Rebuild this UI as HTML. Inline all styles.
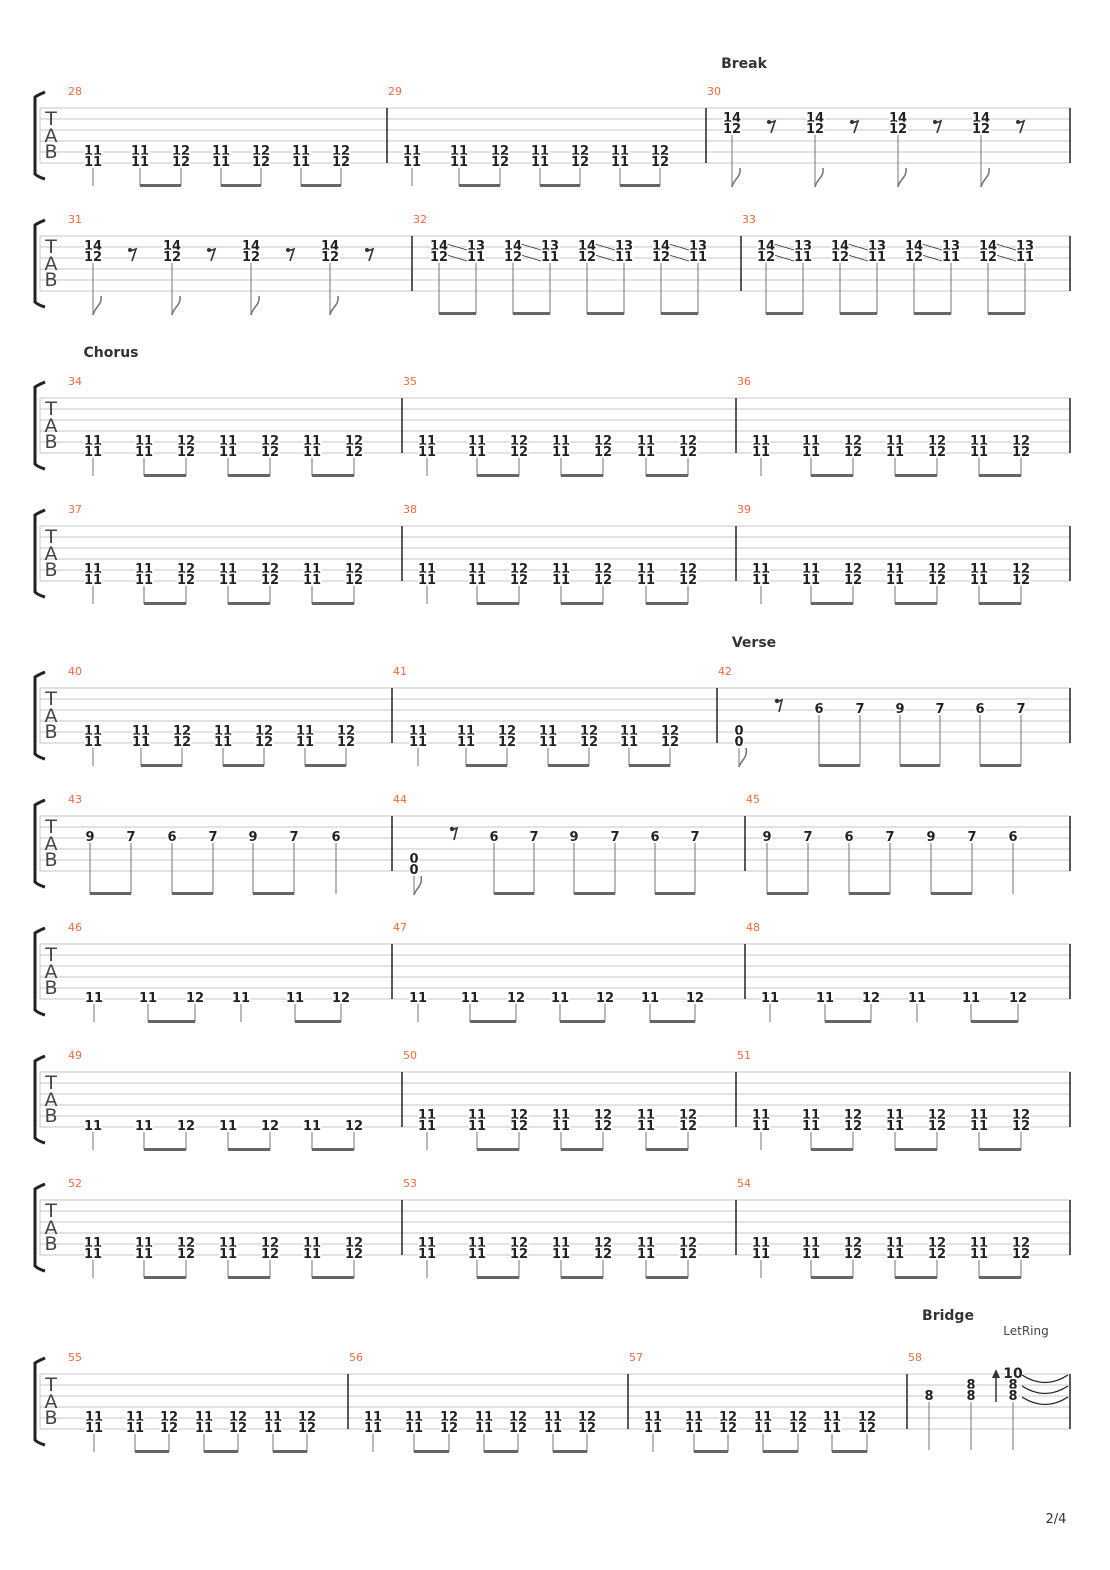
<!DOCTYPE html>
<html><head><meta charset="utf-8">
<style>
html,body{margin:0;padding:0;background:#fff}
svg{display:block}
.n{font:bold 13px "DejaVu Sans","Liberation Sans",sans-serif;text-anchor:middle;fill:#222;stroke:#fff;stroke-width:3px;paint-order:stroke}
.st{stroke:#8a8a8a;stroke-width:1.2}
.bm{fill:#666}
.bn{font:11px "DejaVu Sans","Liberation Sans",sans-serif;fill:#f26a3e}
.sl{stroke:#c4c4c4;stroke-width:1}
.bl{stroke:#222;stroke-width:1.5}
.tab{font:19px "DejaVu Sans","Liberation Sans",sans-serif;fill:#444;text-anchor:middle}
.sec{font:bold 14px "DejaVu Sans","Liberation Sans",sans-serif;fill:#333;text-anchor:middle}
.fl{stroke:#777;stroke-width:1.6;fill:none}
.rs{stroke:#333;stroke-width:1.6;fill:none}
</style></head>
<body>
<svg width="1110" height="1570" viewBox="0 0 1110 1570" xmlns="http://www.w3.org/2000/svg">
<defs>
<g id="staff">
<line class="sl" x1="40" y1="0" x2="1070" y2="0"/>
<line class="sl" x1="40" y1="11" x2="1070" y2="11"/>
<line class="sl" x1="40" y1="22" x2="1070" y2="22"/>
<line class="sl" x1="40" y1="33" x2="1070" y2="33"/>
<line class="sl" x1="40" y1="44" x2="1070" y2="44"/>
<line class="sl" x1="40" y1="55" x2="1070" y2="55"/>
<line class="sl" x1="40" y1="0" x2="40" y2="55"/>
<line class="bl" x1="1070" y1="0" x2="1070" y2="55"/>
<path d="M45,-16 Q38,-13 35,-11 L35,66 Q38,69 45,71" stroke="#222" stroke-width="3" fill="none"/>
</g>
</defs>

<text class="sec" x="744" y="68">Break</text>
<text class="sec" x="111" y="357">Chorus</text>
<text class="sec" x="754" y="647">Verse</text>
<text class="sec" x="948" y="1320">Bridge</text>
<text x="1026" y="1335" style="font:12px 'DejaVu Sans',sans-serif;fill:#444;text-anchor:middle">LetRing</text>
<text x="1056" y="1523" style="font:13px 'DejaVu Sans',sans-serif;fill:#333;text-anchor:middle">2/4</text>

<!-- ROW 1 -->
<g transform="translate(0,108)">
<use href="#staff"/>
<text class="tab" x="51" y="17">T</text><text class="tab" x="51" y="34">A</text><text class="tab" x="51" y="50">B</text>
<text class="bn" x="68" y="-13">28</text><text class="bn" x="388" y="-13">29</text><text class="bn" x="707" y="-13">30</text>
<line class="bl" x1="387" y1="0" x2="387" y2="55"/><line class="bl" x1="706" y1="0" x2="706" y2="55"/>
<g>
<line class="st" x1="93" y1="60" x2="93" y2="78"/><text class="n" x="93" y="47">11</text><text class="n" x="93" y="58">11</text>
<line class="st" x1="140" y1="60" x2="140" y2="78"/><text class="n" x="140" y="47">11</text><text class="n" x="140" y="58">11</text>
<line class="st" x1="181" y1="60" x2="181" y2="78"/><text class="n" x="181" y="47">12</text><text class="n" x="181" y="58">12</text>
<rect class="bm" x="140" y="76" width="41" height="3"/>
<line class="st" x1="221" y1="60" x2="221" y2="78"/><text class="n" x="221" y="47">11</text><text class="n" x="221" y="58">11</text>
<line class="st" x1="261" y1="60" x2="261" y2="78"/><text class="n" x="261" y="47">12</text><text class="n" x="261" y="58">12</text>
<rect class="bm" x="221" y="76" width="40" height="3"/>
<line class="st" x1="301" y1="60" x2="301" y2="78"/><text class="n" x="301" y="47">11</text><text class="n" x="301" y="58">11</text>
<line class="st" x1="341" y1="60" x2="341" y2="78"/><text class="n" x="341" y="47">12</text><text class="n" x="341" y="58">12</text>
<rect class="bm" x="301" y="76" width="40" height="3"/>
</g>
<g>
<line class="st" x1="412" y1="60" x2="412" y2="78"/><text class="n" x="412" y="47">11</text><text class="n" x="412" y="58">11</text>
<line class="st" x1="459" y1="60" x2="459" y2="78"/><text class="n" x="459" y="47">11</text><text class="n" x="459" y="58">11</text>
<line class="st" x1="500" y1="60" x2="500" y2="78"/><text class="n" x="500" y="47">12</text><text class="n" x="500" y="58">12</text>
<rect class="bm" x="459" y="76" width="41" height="3"/>
<line class="st" x1="540" y1="60" x2="540" y2="78"/><text class="n" x="540" y="47">11</text><text class="n" x="540" y="58">11</text>
<line class="st" x1="580" y1="60" x2="580" y2="78"/><text class="n" x="580" y="47">12</text><text class="n" x="580" y="58">12</text>
<rect class="bm" x="540" y="76" width="40" height="3"/>
<line class="st" x1="620" y1="60" x2="620" y2="78"/><text class="n" x="620" y="47">11</text><text class="n" x="620" y="58">11</text>
<line class="st" x1="660" y1="60" x2="660" y2="78"/><text class="n" x="660" y="47">12</text><text class="n" x="660" y="58">12</text>
<rect class="bm" x="620" y="76" width="40" height="3"/>
</g>
<g>
<line class="st" x1="732" y1="27" x2="732" y2="79"/><path class="fl" d="M732,79 C734,70 741,70 740,60"/><text class="n" x="732" y="14">14</text><text class="n" x="732" y="25">12</text>
<circle cx="769" cy="14" r="2" fill="#333"/><path class="rs" d="M769,15 L775,13 L771,25"/>
<line class="st" x1="815" y1="27" x2="815" y2="79"/><path class="fl" d="M815,79 C817,70 824,70 823,60"/><text class="n" x="815" y="14">14</text><text class="n" x="815" y="25">12</text>
<circle cx="852" cy="14" r="2" fill="#333"/><path class="rs" d="M852,15 L858,13 L854,25"/>
<line class="st" x1="898" y1="27" x2="898" y2="79"/><path class="fl" d="M898,79 C900,70 907,70 906,60"/><text class="n" x="898" y="14">14</text><text class="n" x="898" y="25">12</text>
<circle cx="935" cy="14" r="2" fill="#333"/><path class="rs" d="M935,15 L941,13 L937,25"/>
<line class="st" x1="981" y1="27" x2="981" y2="79"/><path class="fl" d="M981,79 C983,70 990,70 989,60"/><text class="n" x="981" y="14">14</text><text class="n" x="981" y="25">12</text>
<circle cx="1018" cy="14" r="2" fill="#333"/><path class="rs" d="M1018,15 L1024,13 L1020,25"/>
</g>
</g>

<!-- ROW 2 -->
<g transform="translate(0,236)">
<use href="#staff"/>
<text class="tab" x="51" y="17">T</text><text class="tab" x="51" y="34">A</text><text class="tab" x="51" y="50">B</text>
<text class="bn" x="68" y="-13">31</text><text class="bn" x="413" y="-13">32</text><text class="bn" x="742" y="-13">33</text>
<line class="bl" x1="412" y1="0" x2="412" y2="55"/><line class="bl" x1="741" y1="0" x2="741" y2="55"/>
<g>
<line class="st" x1="93" y1="27" x2="93" y2="79"/><path class="fl" d="M93,79 C95,70 102,70 101,60"/><text class="n" x="93" y="14">14</text><text class="n" x="93" y="25">12</text>
<circle cx="130" cy="14" r="2" fill="#333"/><path class="rs" d="M130,15 L136,13 L132,25"/>
<line class="st" x1="172" y1="27" x2="172" y2="79"/><path class="fl" d="M172,79 C174,70 181,70 180,60"/><text class="n" x="172" y="14">14</text><text class="n" x="172" y="25">12</text>
<circle cx="209" cy="14" r="2" fill="#333"/><path class="rs" d="M209,15 L215,13 L211,25"/>
<line class="st" x1="251" y1="27" x2="251" y2="79"/><path class="fl" d="M251,79 C253,70 260,70 259,60"/><text class="n" x="251" y="14">14</text><text class="n" x="251" y="25">12</text>
<circle cx="288" cy="14" r="2" fill="#333"/><path class="rs" d="M288,15 L294,13 L290,25"/>
<line class="st" x1="330" y1="27" x2="330" y2="79"/><path class="fl" d="M330,79 C332,70 339,70 338,60"/><text class="n" x="330" y="14">14</text><text class="n" x="330" y="25">12</text>
<circle cx="367" cy="14" r="2" fill="#333"/><path class="rs" d="M367,15 L373,13 L369,25"/>
</g>
<g stroke="#333" stroke-width="0.9">
<line x1="447" y1="8" x2="467" y2="14"/><line x1="447" y1="19" x2="467" y2="25"/>
<line x1="521" y1="8" x2="541" y2="14"/><line x1="521" y1="19" x2="541" y2="25"/>
<line x1="595" y1="8" x2="615" y2="14"/><line x1="595" y1="19" x2="615" y2="25"/>
<line x1="669" y1="8" x2="689" y2="14"/><line x1="669" y1="19" x2="689" y2="25"/>
<line x1="774" y1="8" x2="794" y2="14"/><line x1="774" y1="19" x2="794" y2="25"/>
<line x1="848" y1="8" x2="868" y2="14"/><line x1="848" y1="19" x2="868" y2="25"/>
<line x1="922" y1="8" x2="942" y2="14"/><line x1="922" y1="19" x2="942" y2="25"/>
<line x1="996" y1="8" x2="1016" y2="14"/><line x1="996" y1="19" x2="1016" y2="25"/>
</g>
<g>
<line class="st" x1="439" y1="27" x2="439" y2="78"/><line class="st" x1="476" y1="27" x2="476" y2="78"/><rect class="bm" x="439" y="76" width="37" height="3"/>
<text class="n" x="439" y="14">14</text><text class="n" x="439" y="25">12</text><text class="n" x="476" y="14">13</text><text class="n" x="476" y="25">11</text>
<line class="st" x1="513" y1="27" x2="513" y2="78"/><line class="st" x1="550" y1="27" x2="550" y2="78"/><rect class="bm" x="513" y="76" width="37" height="3"/>
<text class="n" x="513" y="14">14</text><text class="n" x="513" y="25">12</text><text class="n" x="550" y="14">13</text><text class="n" x="550" y="25">11</text>
<line class="st" x1="587" y1="27" x2="587" y2="78"/><line class="st" x1="624" y1="27" x2="624" y2="78"/><rect class="bm" x="587" y="76" width="37" height="3"/>
<text class="n" x="587" y="14">14</text><text class="n" x="587" y="25">12</text><text class="n" x="624" y="14">13</text><text class="n" x="624" y="25">11</text>
<line class="st" x1="661" y1="27" x2="661" y2="78"/><line class="st" x1="698" y1="27" x2="698" y2="78"/><rect class="bm" x="661" y="76" width="37" height="3"/>
<text class="n" x="661" y="14">14</text><text class="n" x="661" y="25">12</text><text class="n" x="698" y="14">13</text><text class="n" x="698" y="25">11</text>
<line class="st" x1="766" y1="27" x2="766" y2="78"/><line class="st" x1="803" y1="27" x2="803" y2="78"/><rect class="bm" x="766" y="76" width="37" height="3"/>
<text class="n" x="766" y="14">14</text><text class="n" x="766" y="25">12</text><text class="n" x="803" y="14">13</text><text class="n" x="803" y="25">11</text>
<line class="st" x1="840" y1="27" x2="840" y2="78"/><line class="st" x1="877" y1="27" x2="877" y2="78"/><rect class="bm" x="840" y="76" width="37" height="3"/>
<text class="n" x="840" y="14">14</text><text class="n" x="840" y="25">12</text><text class="n" x="877" y="14">13</text><text class="n" x="877" y="25">11</text>
<line class="st" x1="914" y1="27" x2="914" y2="78"/><line class="st" x1="951" y1="27" x2="951" y2="78"/><rect class="bm" x="914" y="76" width="37" height="3"/>
<text class="n" x="914" y="14">14</text><text class="n" x="914" y="25">12</text><text class="n" x="951" y="14">13</text><text class="n" x="951" y="25">11</text>
<line class="st" x1="988" y1="27" x2="988" y2="78"/><line class="st" x1="1025" y1="27" x2="1025" y2="78"/><rect class="bm" x="988" y="76" width="37" height="3"/>
<text class="n" x="988" y="14">14</text><text class="n" x="988" y="25">12</text><text class="n" x="1025" y="14">13</text><text class="n" x="1025" y="25">11</text>
</g>
</g>

<!-- ROW 3 -->
<g transform="translate(0,398)">
<use href="#staff"/>
<text class="tab" x="51" y="17">T</text><text class="tab" x="51" y="34">A</text><text class="tab" x="51" y="50">B</text>
<text class="bn" x="68" y="-13">34</text><text class="bn" x="403" y="-13">35</text><text class="bn" x="737" y="-13">36</text>
<line class="bl" x1="402" y1="0" x2="402" y2="55"/><line class="bl" x1="736" y1="0" x2="736" y2="55"/>
<g id="chordrowA">
<line class="st" x1="93" y1="60" x2="93" y2="78"/><text class="n" x="93" y="47">11</text><text class="n" x="93" y="58">11</text>
<line class="st" x1="144" y1="60" x2="144" y2="78"/><text class="n" x="144" y="47">11</text><text class="n" x="144" y="58">11</text>
<line class="st" x1="186" y1="60" x2="186" y2="78"/><text class="n" x="186" y="47">12</text><text class="n" x="186" y="58">12</text>
<rect class="bm" x="144" y="76" width="42" height="3"/>
<line class="st" x1="228" y1="60" x2="228" y2="78"/><text class="n" x="228" y="47">11</text><text class="n" x="228" y="58">11</text>
<line class="st" x1="270" y1="60" x2="270" y2="78"/><text class="n" x="270" y="47">12</text><text class="n" x="270" y="58">12</text>
<rect class="bm" x="228" y="76" width="42" height="3"/>
<line class="st" x1="312" y1="60" x2="312" y2="78"/><text class="n" x="312" y="47">11</text><text class="n" x="312" y="58">11</text>
<line class="st" x1="354" y1="60" x2="354" y2="78"/><text class="n" x="354" y="47">12</text><text class="n" x="354" y="58">12</text>
<rect class="bm" x="312" y="76" width="42" height="3"/>
</g>
<g id="chordrowB">
<line class="st" x1="427" y1="60" x2="427" y2="78"/><text class="n" x="427" y="47">11</text><text class="n" x="427" y="58">11</text>
<line class="st" x1="477" y1="60" x2="477" y2="78"/><text class="n" x="477" y="47">11</text><text class="n" x="477" y="58">11</text>
<line class="st" x1="519" y1="60" x2="519" y2="78"/><text class="n" x="519" y="47">12</text><text class="n" x="519" y="58">12</text>
<rect class="bm" x="477" y="76" width="42" height="3"/>
<line class="st" x1="561" y1="60" x2="561" y2="78"/><text class="n" x="561" y="47">11</text><text class="n" x="561" y="58">11</text>
<line class="st" x1="603" y1="60" x2="603" y2="78"/><text class="n" x="603" y="47">12</text><text class="n" x="603" y="58">12</text>
<rect class="bm" x="561" y="76" width="42" height="3"/>
<line class="st" x1="646" y1="60" x2="646" y2="78"/><text class="n" x="646" y="47">11</text><text class="n" x="646" y="58">11</text>
<line class="st" x1="688" y1="60" x2="688" y2="78"/><text class="n" x="688" y="47">12</text><text class="n" x="688" y="58">12</text>
<rect class="bm" x="646" y="76" width="42" height="3"/>
<line class="st" x1="761" y1="60" x2="761" y2="78"/><text class="n" x="761" y="47">11</text><text class="n" x="761" y="58">11</text>
<line class="st" x1="811" y1="60" x2="811" y2="78"/><text class="n" x="811" y="47">11</text><text class="n" x="811" y="58">11</text>
<line class="st" x1="853" y1="60" x2="853" y2="78"/><text class="n" x="853" y="47">12</text><text class="n" x="853" y="58">12</text>
<rect class="bm" x="811" y="76" width="42" height="3"/>
<line class="st" x1="895" y1="60" x2="895" y2="78"/><text class="n" x="895" y="47">11</text><text class="n" x="895" y="58">11</text>
<line class="st" x1="937" y1="60" x2="937" y2="78"/><text class="n" x="937" y="47">12</text><text class="n" x="937" y="58">12</text>
<rect class="bm" x="895" y="76" width="42" height="3"/>
<line class="st" x1="979" y1="60" x2="979" y2="78"/><text class="n" x="979" y="47">11</text><text class="n" x="979" y="58">11</text>
<line class="st" x1="1021" y1="60" x2="1021" y2="78"/><text class="n" x="1021" y="47">12</text><text class="n" x="1021" y="58">12</text>
<rect class="bm" x="979" y="76" width="42" height="3"/>
</g>
</g>

<!-- ROW 4 -->
<g transform="translate(0,526)">
<use href="#staff"/>
<text class="tab" x="51" y="17">T</text><text class="tab" x="51" y="34">A</text><text class="tab" x="51" y="50">B</text>
<text class="bn" x="68" y="-13">37</text><text class="bn" x="403" y="-13">38</text><text class="bn" x="737" y="-13">39</text>
<line class="bl" x1="402" y1="0" x2="402" y2="55"/><line class="bl" x1="736" y1="0" x2="736" y2="55"/>
<line class="st" x1="93" y1="60" x2="93" y2="78"/><text class="n" x="93" y="47">11</text><text class="n" x="93" y="58">11</text>
<line class="st" x1="144" y1="60" x2="144" y2="78"/><text class="n" x="144" y="47">11</text><text class="n" x="144" y="58">11</text>
<line class="st" x1="186" y1="60" x2="186" y2="78"/><text class="n" x="186" y="47">12</text><text class="n" x="186" y="58">12</text>
<rect class="bm" x="144" y="76" width="42" height="3"/>
<line class="st" x1="228" y1="60" x2="228" y2="78"/><text class="n" x="228" y="47">11</text><text class="n" x="228" y="58">11</text>
<line class="st" x1="270" y1="60" x2="270" y2="78"/><text class="n" x="270" y="47">12</text><text class="n" x="270" y="58">12</text>
<rect class="bm" x="228" y="76" width="42" height="3"/>
<line class="st" x1="312" y1="60" x2="312" y2="78"/><text class="n" x="312" y="47">11</text><text class="n" x="312" y="58">11</text>
<line class="st" x1="354" y1="60" x2="354" y2="78"/><text class="n" x="354" y="47">12</text><text class="n" x="354" y="58">12</text>
<rect class="bm" x="312" y="76" width="42" height="3"/>
<line class="st" x1="427" y1="60" x2="427" y2="78"/><text class="n" x="427" y="47">11</text><text class="n" x="427" y="58">11</text>
<line class="st" x1="477" y1="60" x2="477" y2="78"/><text class="n" x="477" y="47">11</text><text class="n" x="477" y="58">11</text>
<line class="st" x1="519" y1="60" x2="519" y2="78"/><text class="n" x="519" y="47">12</text><text class="n" x="519" y="58">12</text>
<rect class="bm" x="477" y="76" width="42" height="3"/>
<line class="st" x1="561" y1="60" x2="561" y2="78"/><text class="n" x="561" y="47">11</text><text class="n" x="561" y="58">11</text>
<line class="st" x1="603" y1="60" x2="603" y2="78"/><text class="n" x="603" y="47">12</text><text class="n" x="603" y="58">12</text>
<rect class="bm" x="561" y="76" width="42" height="3"/>
<line class="st" x1="646" y1="60" x2="646" y2="78"/><text class="n" x="646" y="47">11</text><text class="n" x="646" y="58">11</text>
<line class="st" x1="688" y1="60" x2="688" y2="78"/><text class="n" x="688" y="47">12</text><text class="n" x="688" y="58">12</text>
<rect class="bm" x="646" y="76" width="42" height="3"/>
<line class="st" x1="761" y1="60" x2="761" y2="78"/><text class="n" x="761" y="47">11</text><text class="n" x="761" y="58">11</text>
<line class="st" x1="811" y1="60" x2="811" y2="78"/><text class="n" x="811" y="47">11</text><text class="n" x="811" y="58">11</text>
<line class="st" x1="853" y1="60" x2="853" y2="78"/><text class="n" x="853" y="47">12</text><text class="n" x="853" y="58">12</text>
<rect class="bm" x="811" y="76" width="42" height="3"/>
<line class="st" x1="895" y1="60" x2="895" y2="78"/><text class="n" x="895" y="47">11</text><text class="n" x="895" y="58">11</text>
<line class="st" x1="937" y1="60" x2="937" y2="78"/><text class="n" x="937" y="47">12</text><text class="n" x="937" y="58">12</text>
<rect class="bm" x="895" y="76" width="42" height="3"/>
<line class="st" x1="979" y1="60" x2="979" y2="78"/><text class="n" x="979" y="47">11</text><text class="n" x="979" y="58">11</text>
<line class="st" x1="1021" y1="60" x2="1021" y2="78"/><text class="n" x="1021" y="47">12</text><text class="n" x="1021" y="58">12</text>
<rect class="bm" x="979" y="76" width="42" height="3"/>
</g>

<!-- ROW 5 -->
<g transform="translate(0,688)">
<use href="#staff"/>
<text class="tab" x="51" y="17">T</text><text class="tab" x="51" y="34">A</text><text class="tab" x="51" y="50">B</text>
<text class="bn" x="68" y="-13">40</text><text class="bn" x="393" y="-13">41</text><text class="bn" x="718" y="-13">42</text>
<line class="bl" x1="392" y1="0" x2="392" y2="55"/><line class="bl" x1="717" y1="0" x2="717" y2="55"/>
<line class="st" x1="93" y1="60" x2="93" y2="78"/><text class="n" x="93" y="47">11</text><text class="n" x="93" y="58">11</text>
<line class="st" x1="141" y1="60" x2="141" y2="78"/><text class="n" x="141" y="47">11</text><text class="n" x="141" y="58">11</text>
<line class="st" x1="182" y1="60" x2="182" y2="78"/><text class="n" x="182" y="47">12</text><text class="n" x="182" y="58">12</text>
<rect class="bm" x="141" y="76" width="41" height="3"/>
<line class="st" x1="223" y1="60" x2="223" y2="78"/><text class="n" x="223" y="47">11</text><text class="n" x="223" y="58">11</text>
<line class="st" x1="264" y1="60" x2="264" y2="78"/><text class="n" x="264" y="47">12</text><text class="n" x="264" y="58">12</text>
<rect class="bm" x="223" y="76" width="41" height="3"/>
<line class="st" x1="305" y1="60" x2="305" y2="78"/><text class="n" x="305" y="47">11</text><text class="n" x="305" y="58">11</text>
<line class="st" x1="346" y1="60" x2="346" y2="78"/><text class="n" x="346" y="47">12</text><text class="n" x="346" y="58">12</text>
<rect class="bm" x="305" y="76" width="41" height="3"/>
<line class="st" x1="418" y1="60" x2="418" y2="78"/><text class="n" x="418" y="47">11</text><text class="n" x="418" y="58">11</text>
<line class="st" x1="466" y1="60" x2="466" y2="78"/><text class="n" x="466" y="47">11</text><text class="n" x="466" y="58">11</text>
<line class="st" x1="507" y1="60" x2="507" y2="78"/><text class="n" x="507" y="47">12</text><text class="n" x="507" y="58">12</text>
<rect class="bm" x="466" y="76" width="41" height="3"/>
<line class="st" x1="548" y1="60" x2="548" y2="78"/><text class="n" x="548" y="47">11</text><text class="n" x="548" y="58">11</text>
<line class="st" x1="589" y1="60" x2="589" y2="78"/><text class="n" x="589" y="47">12</text><text class="n" x="589" y="58">12</text>
<rect class="bm" x="548" y="76" width="41" height="3"/>
<line class="st" x1="629" y1="60" x2="629" y2="78"/><text class="n" x="629" y="47">11</text><text class="n" x="629" y="58">11</text>
<line class="st" x1="670" y1="60" x2="670" y2="78"/><text class="n" x="670" y="47">12</text><text class="n" x="670" y="58">12</text>
<rect class="bm" x="629" y="76" width="41" height="3"/>
<line class="st" x1="739" y1="60" x2="739" y2="79"/><path class="fl" d="M739,79 C741,72 748,70 746,60"/><text class="n" x="739" y="47">0</text><text class="n" x="739" y="58">0</text>
<circle cx="777" cy="13" r="2.2" fill="#333"/><path class="rs" d="M777,14 L782,12 L779,24"/>
<line class="st" x1="819" y1="27" x2="819" y2="78"/><line class="st" x1="860" y1="27" x2="860" y2="78"/><rect class="bm" x="819" y="76" width="41" height="3"/>
<text class="n" x="819" y="25">6</text><text class="n" x="860" y="25">7</text>
<line class="st" x1="900" y1="27" x2="900" y2="78"/><line class="st" x1="940" y1="27" x2="940" y2="78"/><rect class="bm" x="900" y="76" width="40" height="3"/>
<text class="n" x="900" y="25">9</text><text class="n" x="940" y="25">7</text>
<line class="st" x1="980" y1="27" x2="980" y2="78"/><line class="st" x1="1021" y1="27" x2="1021" y2="78"/><rect class="bm" x="980" y="76" width="41" height="3"/>
<text class="n" x="980" y="25">6</text><text class="n" x="1021" y="25">7</text>
</g>

<!-- ROW 6 -->
<g transform="translate(0,816)">
<use href="#staff"/>
<text class="tab" x="51" y="17">T</text><text class="tab" x="51" y="34">A</text><text class="tab" x="51" y="50">B</text>
<text class="bn" x="68" y="-13">43</text><text class="bn" x="393" y="-13">44</text><text class="bn" x="746" y="-13">45</text>
<line class="bl" x1="392" y1="0" x2="392" y2="55"/><line class="bl" x1="745" y1="0" x2="745" y2="55"/>
<line class="st" x1="90" y1="27" x2="90" y2="78"/><line class="st" x1="131" y1="27" x2="131" y2="78"/><rect class="bm" x="90" y="76" width="41" height="3"/>
<text class="n" x="90" y="25">9</text><text class="n" x="131" y="25">7</text>
<line class="st" x1="172" y1="27" x2="172" y2="78"/><line class="st" x1="213" y1="27" x2="213" y2="78"/><rect class="bm" x="172" y="76" width="41" height="3"/>
<text class="n" x="172" y="25">6</text><text class="n" x="213" y="25">7</text>
<line class="st" x1="253" y1="27" x2="253" y2="78"/><line class="st" x1="294" y1="27" x2="294" y2="78"/><rect class="bm" x="253" y="76" width="41" height="3"/>
<text class="n" x="253" y="25">9</text><text class="n" x="294" y="25">7</text>
<line class="st" x1="336" y1="27" x2="336" y2="78"/><text class="n" x="336" y="25">6</text>
<line class="st" x1="414" y1="60" x2="414" y2="79"/><path class="fl" d="M414,79 C416,72 423,70 421,60"/><text class="n" x="414" y="47">0</text><text class="n" x="414" y="58">0</text>
<circle cx="452" cy="13" r="2.2" fill="#333"/><path class="rs" d="M452,14 L457,12 L454,24"/>
<line class="st" x1="494" y1="27" x2="494" y2="78"/><line class="st" x1="534" y1="27" x2="534" y2="78"/><rect class="bm" x="494" y="76" width="40" height="3"/>
<text class="n" x="494" y="25">6</text><text class="n" x="534" y="25">7</text>
<line class="st" x1="574" y1="27" x2="574" y2="78"/><line class="st" x1="615" y1="27" x2="615" y2="78"/><rect class="bm" x="574" y="76" width="41" height="3"/>
<text class="n" x="574" y="25">9</text><text class="n" x="615" y="25">7</text>
<line class="st" x1="655" y1="27" x2="655" y2="78"/><line class="st" x1="695" y1="27" x2="695" y2="78"/><rect class="bm" x="655" y="76" width="40" height="3"/>
<text class="n" x="655" y="25">6</text><text class="n" x="695" y="25">7</text>
<line class="st" x1="767" y1="27" x2="767" y2="78"/><line class="st" x1="808" y1="27" x2="808" y2="78"/><rect class="bm" x="767" y="76" width="41" height="3"/>
<text class="n" x="767" y="25">9</text><text class="n" x="808" y="25">7</text>
<line class="st" x1="849" y1="27" x2="849" y2="78"/><line class="st" x1="890" y1="27" x2="890" y2="78"/><rect class="bm" x="849" y="76" width="41" height="3"/>
<text class="n" x="849" y="25">6</text><text class="n" x="890" y="25">7</text>
<line class="st" x1="931" y1="27" x2="931" y2="78"/><line class="st" x1="972" y1="27" x2="972" y2="78"/><rect class="bm" x="931" y="76" width="41" height="3"/>
<text class="n" x="931" y="25">9</text><text class="n" x="972" y="25">7</text>
<line class="st" x1="1013" y1="27" x2="1013" y2="78"/><text class="n" x="1013" y="25">6</text>
</g>

<!-- ROW 7 -->
<g transform="translate(0,944)">
<use href="#staff"/>
<text class="tab" x="51" y="17">T</text><text class="tab" x="51" y="34">A</text><text class="tab" x="51" y="50">B</text>
<text class="bn" x="68" y="-13">46</text><text class="bn" x="393" y="-13">47</text><text class="bn" x="746" y="-13">48</text>
<line class="bl" x1="392" y1="0" x2="392" y2="55"/><line class="bl" x1="745" y1="0" x2="745" y2="55"/>
<line class="st" x1="94" y1="60" x2="94" y2="78"/><text class="n" x="94" y="58">11</text>
<line class="st" x1="148" y1="60" x2="148" y2="78"/><line class="st" x1="195" y1="60" x2="195" y2="78"/><rect class="bm" x="148" y="76" width="47" height="3"/>
<text class="n" x="148" y="58">11</text><text class="n" x="195" y="58">12</text>
<line class="st" x1="241" y1="60" x2="241" y2="78"/><text class="n" x="241" y="58">11</text>
<line class="st" x1="295" y1="60" x2="295" y2="78"/><line class="st" x1="341" y1="60" x2="341" y2="78"/><rect class="bm" x="295" y="76" width="46" height="3"/>
<text class="n" x="295" y="58">11</text><text class="n" x="341" y="58">12</text>
<line class="st" x1="418" y1="60" x2="418" y2="78"/><text class="n" x="418" y="58">11</text>
<line class="st" x1="470" y1="60" x2="470" y2="78"/><line class="st" x1="516" y1="60" x2="516" y2="78"/><rect class="bm" x="470" y="76" width="46" height="3"/>
<text class="n" x="470" y="58">11</text><text class="n" x="516" y="58">12</text>
<line class="st" x1="560" y1="60" x2="560" y2="78"/><line class="st" x1="605" y1="60" x2="605" y2="78"/><rect class="bm" x="560" y="76" width="45" height="3"/>
<text class="n" x="560" y="58">11</text><text class="n" x="605" y="58">12</text>
<line class="st" x1="650" y1="60" x2="650" y2="78"/><line class="st" x1="695" y1="60" x2="695" y2="78"/><rect class="bm" x="650" y="76" width="45" height="3"/>
<text class="n" x="650" y="58">11</text><text class="n" x="695" y="58">12</text>
<line class="st" x1="770" y1="60" x2="770" y2="78"/><text class="n" x="770" y="58">11</text>
<line class="st" x1="825" y1="60" x2="825" y2="78"/><line class="st" x1="871" y1="60" x2="871" y2="78"/><rect class="bm" x="825" y="76" width="46" height="3"/>
<text class="n" x="825" y="58">11</text><text class="n" x="871" y="58">12</text>
<line class="st" x1="917" y1="60" x2="917" y2="78"/><text class="n" x="917" y="58">11</text>
<line class="st" x1="971" y1="60" x2="971" y2="78"/><line class="st" x1="1018" y1="60" x2="1018" y2="78"/><rect class="bm" x="971" y="76" width="47" height="3"/>
<text class="n" x="971" y="58">11</text><text class="n" x="1018" y="58">12</text>
</g>

<!-- ROW 8 -->
<g transform="translate(0,1072)">
<use href="#staff"/>
<text class="tab" x="51" y="17">T</text><text class="tab" x="51" y="34">A</text><text class="tab" x="51" y="50">B</text>
<text class="bn" x="68" y="-13">49</text><text class="bn" x="403" y="-13">50</text><text class="bn" x="737" y="-13">51</text>
<line class="bl" x1="402" y1="0" x2="402" y2="55"/><line class="bl" x1="736" y1="0" x2="736" y2="55"/>
<line class="st" x1="93" y1="60" x2="93" y2="78"/><text class="n" x="93" y="58">11</text>
<line class="st" x1="144" y1="60" x2="144" y2="78"/><line class="st" x1="186" y1="60" x2="186" y2="78"/><rect class="bm" x="144" y="76" width="42" height="3"/>
<text class="n" x="144" y="58">11</text><text class="n" x="186" y="58">12</text>
<line class="st" x1="228" y1="60" x2="228" y2="78"/><line class="st" x1="270" y1="60" x2="270" y2="78"/><rect class="bm" x="228" y="76" width="42" height="3"/>
<text class="n" x="228" y="58">11</text><text class="n" x="270" y="58">12</text>
<line class="st" x1="312" y1="60" x2="312" y2="78"/><line class="st" x1="354" y1="60" x2="354" y2="78"/><rect class="bm" x="312" y="76" width="42" height="3"/>
<text class="n" x="312" y="58">11</text><text class="n" x="354" y="58">12</text>
<use href="#chordrowB"/>
</g>

<!-- ROW 9 -->
<g transform="translate(0,1200)">
<use href="#staff"/>
<text class="tab" x="51" y="17">T</text><text class="tab" x="51" y="34">A</text><text class="tab" x="51" y="50">B</text>
<text class="bn" x="68" y="-13">52</text><text class="bn" x="403" y="-13">53</text><text class="bn" x="737" y="-13">54</text>
<line class="bl" x1="402" y1="0" x2="402" y2="55"/><line class="bl" x1="736" y1="0" x2="736" y2="55"/>
<use href="#chordrowA"/>
<use href="#chordrowB"/>
</g>

<!-- ROW 10 -->
<g transform="translate(0,1374)">
<use href="#staff"/>
<text class="tab" x="51" y="17">T</text><text class="tab" x="51" y="34">A</text><text class="tab" x="51" y="50">B</text>
<text class="bn" x="68" y="-13">55</text><text class="bn" x="349" y="-13">56</text><text class="bn" x="629" y="-13">57</text><text class="bn" x="908" y="-13">58</text>
<line class="bl" x1="348" y1="0" x2="348" y2="55"/><line class="bl" x1="628" y1="0" x2="628" y2="55"/><line class="bl" x1="907" y1="0" x2="907" y2="55"/>
<line class="st" x1="94" y1="60" x2="94" y2="78"/><text class="n" x="94" y="47">11</text><text class="n" x="94" y="58">11</text>
<line class="st" x1="135" y1="60" x2="135" y2="78"/><text class="n" x="135" y="47">11</text><text class="n" x="135" y="58">11</text>
<line class="st" x1="169" y1="60" x2="169" y2="78"/><text class="n" x="169" y="47">12</text><text class="n" x="169" y="58">12</text>
<rect class="bm" x="135" y="76" width="34" height="3"/>
<line class="st" x1="204" y1="60" x2="204" y2="78"/><text class="n" x="204" y="47">11</text><text class="n" x="204" y="58">11</text>
<line class="st" x1="238" y1="60" x2="238" y2="78"/><text class="n" x="238" y="47">12</text><text class="n" x="238" y="58">12</text>
<rect class="bm" x="204" y="76" width="34" height="3"/>
<line class="st" x1="273" y1="60" x2="273" y2="78"/><text class="n" x="273" y="47">11</text><text class="n" x="273" y="58">11</text>
<line class="st" x1="307" y1="60" x2="307" y2="78"/><text class="n" x="307" y="47">12</text><text class="n" x="307" y="58">12</text>
<rect class="bm" x="273" y="76" width="34" height="3"/>
<line class="st" x1="373" y1="60" x2="373" y2="78"/><text class="n" x="373" y="47">11</text><text class="n" x="373" y="58">11</text>
<line class="st" x1="414" y1="60" x2="414" y2="78"/><text class="n" x="414" y="47">11</text><text class="n" x="414" y="58">11</text>
<line class="st" x1="449" y1="60" x2="449" y2="78"/><text class="n" x="449" y="47">12</text><text class="n" x="449" y="58">12</text>
<rect class="bm" x="414" y="76" width="35" height="3"/>
<line class="st" x1="484" y1="60" x2="484" y2="78"/><text class="n" x="484" y="47">11</text><text class="n" x="484" y="58">11</text>
<line class="st" x1="518" y1="60" x2="518" y2="78"/><text class="n" x="518" y="47">12</text><text class="n" x="518" y="58">12</text>
<rect class="bm" x="484" y="76" width="34" height="3"/>
<line class="st" x1="553" y1="60" x2="553" y2="78"/><text class="n" x="553" y="47">11</text><text class="n" x="553" y="58">11</text>
<line class="st" x1="587" y1="60" x2="587" y2="78"/><text class="n" x="587" y="47">12</text><text class="n" x="587" y="58">12</text>
<rect class="bm" x="553" y="76" width="34" height="3"/>
<line class="st" x1="653" y1="60" x2="653" y2="78"/><text class="n" x="653" y="47">11</text><text class="n" x="653" y="58">11</text>
<line class="st" x1="694" y1="60" x2="694" y2="78"/><text class="n" x="694" y="47">11</text><text class="n" x="694" y="58">11</text>
<line class="st" x1="728" y1="60" x2="728" y2="78"/><text class="n" x="728" y="47">12</text><text class="n" x="728" y="58">12</text>
<rect class="bm" x="694" y="76" width="34" height="3"/>
<line class="st" x1="763" y1="60" x2="763" y2="78"/><text class="n" x="763" y="47">11</text><text class="n" x="763" y="58">11</text>
<line class="st" x1="798" y1="60" x2="798" y2="78"/><text class="n" x="798" y="47">12</text><text class="n" x="798" y="58">12</text>
<rect class="bm" x="763" y="76" width="35" height="3"/>
<line class="st" x1="832" y1="60" x2="832" y2="78"/><text class="n" x="832" y="47">11</text><text class="n" x="832" y="58">11</text>
<line class="st" x1="867" y1="60" x2="867" y2="78"/><text class="n" x="867" y="47">12</text><text class="n" x="867" y="58">12</text>
<rect class="bm" x="832" y="76" width="35" height="3"/>
<line class="st" x1="929" y1="28" x2="929" y2="76"/><text class="n" x="929" y="26">8</text>
<line class="st" x1="971" y1="28" x2="971" y2="76"/><text class="n" x="971" y="15">8</text><text class="n" x="971" y="26">8</text>
<line x1="996" y1="3" x2="996" y2="28" stroke="#333" stroke-width="1.5"/><path d="M992,4 L996,-5 L1000,4 Z" fill="#333"/>
<line class="st" x1="1013" y1="28" x2="1013" y2="76"/><text class="n" x="1013" y="4" style="font-size:14px">10</text><text class="n" x="1013" y="15">8</text><text class="n" x="1013" y="26">8</text>
<g fill="none" stroke="#222" stroke-width="1.3">
<path d="M1022,1 Q1045,16 1068,1"/>
<path d="M1022,12 Q1045,27 1068,12"/>
<path d="M1022,23 Q1045,38 1068,23"/>
</g>
</g>
</svg>
</body></html>
